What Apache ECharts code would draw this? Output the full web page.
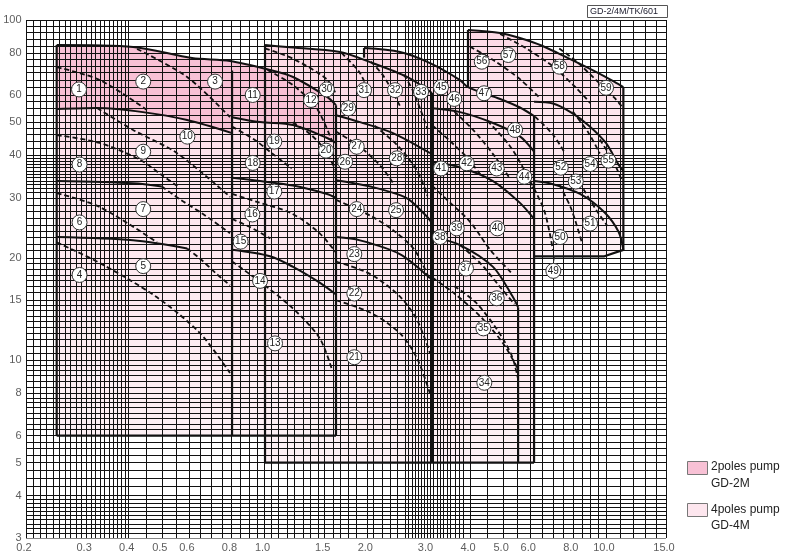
<!DOCTYPE html>
<html><head><meta charset="utf-8">
<script src="https://cdn.jsdelivr.net/npm/echarts@6/dist/echarts.min.js"></script>
<style>html,body{margin:0;padding:0;background:#fff}#c{width:800px;height:559px}</style>
</head><body><div id="c"></div>
<script>
const xTickValues = [0.2,0.3,0.4,0.5,0.6,0.8,1.0,1.5,2.0,3.0,4.0,5.0,6.0,8.0,10.0,15.0];
const yTickValues = [3,4,5,6,8,10,15,20,30,40,50,60,80,100];
const xGridValues = [0.2,0.21,0.22,0.23,0.24,0.25,0.26,0.27,0.28,0.29,0.3,0.31,0.32,0.33,0.34,0.35,0.36,0.37,0.38,0.39,0.4,
  0.45,0.5,0.55,0.6,0.65,0.7,0.75,0.8,0.85,0.9,0.95,1.0,
  1.044,1.095,1.164,1.22,1.296,1.359,1.434,1.5,1.587,1.664,1.756,1.853,2.0,
  2.078,2.209,2.331,2.444,2.58,2.633,2.704,2.76,2.816,2.874,2.932,3.0,3.054,3.116,3.2,3.267,3.334,3.424,3.495,3.614,3.712,3.814,4.0,
  4.5,5.0,5.5,6.0,6.5,7.0,7.5,8.0,8.5,9.0,9.5,10,11,12,13,14,15];
const yGridValues = [3,3.1,3.2,3.3,3.4,3.5,3.6,3.7,3.8,3.9,4,4.25,4.5,4.75,5,5.25,5.5,5.75,6,6.25,6.5,6.75,7,7.25,7.5,7.75,8,
  8.33,8.67,9,9.33,9.67,10,10.5,11,11.5,12,12.5,13,13.5,14,14.5,15,15.85,16.5,17.2,17.8,18.5,19.3,20,
  21,21.9,22.9,23.9,25,26.2,27.4,28.6,30,31.2,32,32.8,33.6,34.4,35.2,36,36.8,37.6,38.4,39.2,40,
  42,44,46,48,50,52.5,55,57.5,60,63.3,66.7,70,73.3,76.7,80,84,88,92,96,100];

// filled envelopes (flow m3/min, head m)
const lightAreas = [
  [[0.246,6],[0.246,84.4],[0.412,83.3],[0.613,77.3],[0.792,75.8],[1.037,71.3],[1.212,68.0],[1.524,59.4],[1.619,56.2],[1.619,6]],
  [[1.003,5],[1.003,84.4],[1.163,83.3],[1.664,80.5],[2.037,75.2],[2.614,68.0],[3.095,61.0],[3.095,5]],
  [[1.956,5],[1.956,82.7],[2.494,80.5],[3.054,74.7],[3.739,66.6],[3.944,63.5],[4.9,58.6],[5.6,55.3],[6.16,52.2],[6.16,5]],
  [[3.944,63.5],[3.944,93.5],[4.897,91.6],[5.6,88.5],[6.5,84.0],[7.7,77.5],[9.2,71.0],[10.6,65.8],[11.25,63.5],[11.25,21.1],[9.9,20.2],[6.16,20.2],[6.16,52.2],[4.9,58.6]]
];
const darkAreas = [
  [[0.246,84.4],[0.412,83.3],[0.613,77.3],[0.792,75.8],[1.037,71.3],[1.212,68.0],[1.524,59.4],[1.619,56.2],[1.619,43.5],[1.524,45.0],[1.212,49.1],[0.97,50.1],[0.803,51.8],[0.803,46.5],[0.593,50.8],[0.44,53.6],[0.323,55.1],[0.246,54.7]]
];
const edgeLines = [
  [[0.246,6],[0.246,84.4]],
  [[1.619,56.2],[1.619,6]],
  [[0.246,6],[1.619,6]],
  [[0.803,6],[0.803,71]],
  [[1.003,5],[1.003,84.4]],
  [[3.095,61],[3.095,5]],
  [[1.003,5],[6.16,5]],
  [[5.53,14.3],[5.53,5]],
  [[6.16,52.2],[6.16,5]],
  [[1.956,82.7],[1.956,77.5]],
  [[3.944,63.5],[3.944,93.5]],
  [[11.25,63.5],[11.25,21.1],[9.9,20.2],[6.16,20.2]]
];
const solidCurves = [
  [[0.246,84.4],[0.412,83.3],[0.613,77.3],[0.792,75.8],[1.037,71.3],[1.212,68.0],[1.524,59.4],[1.619,56.2]],
  [[0.246,54.7],[0.323,55.1],[0.44,53.6],[0.593,50.8],[0.803,46.5]],
  [[0.803,51.8],[0.97,50.1],[1.212,49.1],[1.524,45.0],[1.619,43.5]],
  [[0.246,33.6],[0.412,33.1],[0.5,32.4]],
  [[0.246,23.0],[0.412,22.5],[0.593,21.3]],
  [[0.803,34.4],[0.97,33.6],[1.212,32.6],[1.524,30.8],[1.619,30.0]],
  [[0.803,21.1],[1.037,20.2],[1.212,18.8],[1.45,16.9],[1.619,15.6]],
  [[1.003,84.4],[1.163,83.3],[1.664,80.5],[2.037,75.2],[2.614,68.0],[3.095,61.0]],
  [[1.619,52.5],[1.904,50.1],[2.378,46.5],[3.054,40.6]],
  [[1.619,33.8],[2.04,32.4],[2.6,30.0],[2.95,26.8],[3.095,25.3]],
  [[1.619,23.0],[1.904,22.5],[2.49,20.5],[3.054,17.4]],
  [[3.116,23.0],[3.739,21.8],[4.67,18.8],[5.346,15.3],[5.53,14.3]],
  [[3.054,55.1],[3.739,53.6],[4.67,49.8],[5.6,45.5],[6.16,41.0]],
  [[1.956,82.7],[2.494,80.5],[3.054,74.7],[3.739,66.6],[3.944,63.5],[4.9,58.6],[5.6,55.3],[6.16,52.2]],
  [[3.944,93.5],[4.897,91.6],[5.6,88.5],[6.5,84.0],[7.7,77.5],[9.2,71.0],[10.6,65.8],[11.25,63.5]],
  [[3.116,38.1],[3.739,36.9],[4.67,33.6],[5.6,29.0],[6.16,26.0]],
  [[6.16,57.5],[7.0,56.8],[7.9,53.5],[8.9,49.0],[10.0,43.5],[10.9,37.5],[11.25,36.0]],
  [[6.16,33.6],[7.0,32.9],[8.4,30.8],[9.9,27.2],[10.9,23.8],[11.25,21.1]]
];
const leaderLines = [
  [[7.02,19.4],[7.08,20.2]]
];
const dashedCurves = [
  [[0.246,72.7],[0.329,66.6],[0.452,54.4]],
  [[0.423,82.2],[0.593,68.0],[0.792,51.8]],
  [[0.246,45.9],[0.329,43.5],[0.432,38.8],[0.5,35.0],[0.56,32.3]],
  [[0.323,55.1],[0.412,47.5],[0.554,40.6],[0.792,30.2]],
  [[0.5,32.4],[0.565,29.7],[0.66,26.9],[0.792,23.6]],
  [[0.246,31.0],[0.329,28.2],[0.484,22.2]],
  [[0.593,21.3],[0.65,19.8],[0.72,18.0],[0.792,16.6]],
  [[0.246,22.2],[0.329,19.3],[0.484,15.3],[0.647,12.0],[0.792,9.16]],
  [[1.02,71.3],[1.21,64.4],[1.42,55.1],[1.58,43.8]],
  [[0.803,48.6],[0.93,44.6],[1.05,40.6],[1.2,36.6]],
  [[1.21,50.0],[1.36,46.2],[1.5,41.6],[1.619,36.0]],
  [[0.803,30.8],[0.95,29.2],[1.2,27.0],[1.45,23.6],[1.619,20.7]],
  [[0.803,26.0],[0.9,24.7],[1.04,22.8]],
  [[0.803,19.5],[0.97,17.0],[1.21,14.2],[1.45,11.6],[1.58,9.3]],
  [[1.003,82.5],[1.21,77.0],[1.52,67.0],[1.62,60.5]],
  [[1.68,80.0],[1.9,70.0],[2.04,60.0]],
  [[2.05,75.5],[2.24,68.0],[2.49,56.0]],
  [[2.56,69.0],[2.72,62.0],[3.0,48.0]],
  [[1.619,47.0],[1.9,42.4],[2.2,37.0],[2.4,32.7]],
  [[2.1,48.9],[2.45,42.8],[2.8,36.0],[3.0,30.4]],
  [[1.62,29.6],[2.04,26.6],[2.38,24.1],[2.75,21.1],[3.05,17.2]],
  [[1.62,19.5],[2.04,17.9],[2.49,15.4],[2.8,13.1],[3.05,10.5]],
  [[1.62,15.0],[2.04,13.8],[2.49,12.0],[2.8,10.1],[3.05,8.0]],
  [[3.1,49.0],[3.5,44.0],[3.9,39.6],[4.3,35.0]],
  [[3.6,53.8],[4.1,47.3],[4.7,40.0],[5.2,34.5]],
  [[4.5,50.5],[5.2,43.0],[5.7,37.0],[6.1,32.0]],
  [[3.1,32.5],[3.5,29.0],[4.0,25.5],[4.6,21.0],[5.3,18.0]],
  [[3.74,21.8],[4.3,19.2],[4.9,16.4],[5.4,14.6]],
  [[3.1,17.5],[3.6,15.7],[4.3,13.4],[5.0,11.2],[5.5,9.5]],
  [[3.6,16.5],[4.15,14.8],[4.8,12.3],[5.3,10.3],[5.53,8.8]],
  [[4.0,83.5],[4.7,76.0],[5.6,67.0],[6.4,59.0]],
  [[4.9,91.0],[5.9,82.0],[7.0,73.0],[8.2,63.0],[9.0,57.0]],
  [[7.3,82.5],[8.2,75.5],[9.3,67.0],[10.6,59.0],[11.25,55.0]],
  [[6.2,52.0],[7.0,46.0],[7.6,40.5]],
  [[8.0,53.8],[8.9,46.5],[9.6,40.5]],
  [[9.6,44.5],[10.5,38.5],[11.1,34.0]],
  [[6.0,33.6],[6.6,27.5],[7.0,21.0]],
  [[7.3,32.8],[7.9,28.0],[8.5,22.2]],
  [[8.6,31.8],[9.4,27.5],[10.1,24.8]]
];
const modelNumbers = [
  [0.286,62.5,'1'],[0.441,65.9,'2'],[0.716,65.9,'3'],[0.287,17.8,'4'],[0.441,18.9,'5'],[0.287,25.4,'6'],[0.441,27.8,'7'],
  [0.287,37.6,'8'],[0.441,41.0,'9'],[0.594,45.4,'10'],[0.923,60.2,'11'],[1.368,58.2,'12'],[1.073,11.2,'13'],[0.970,17.1,'14'],
  [0.851,22.3,'15'],[0.921,26.8,'16'],[1.068,31.3,'17'],[0.923,38.0,'18'],[1.068,43.9,'19'],[1.514,41.3,'20'],
  [1.832,10.2,'21'],[1.832,15.7,'22'],[1.832,20.5,'23'],[1.862,27.8,'24'],[2.428,27.6,'25'],[1.721,38.3,'26'],
  [1.862,42.4,'27'],[2.440,39.2,'28'],[1.759,55.0,'29'],[1.521,62.5,'30'],[1.956,62.2,'31'],[2.411,62.2,'32'],
  [2.874,61.5,'33'],[4.404,8.58,'34'],[4.375,12.4,'35'],[4.787,15.2,'36'],[3.892,18.6,'37'],[3.266,23.0,'38'],
  [3.656,24.4,'39'],[4.808,24.4,'40'],[3.288,36.6,'41'],[3.912,37.9,'42'],[4.787,36.6,'43'],[5.768,34.6,'44'],
  [3.288,63.4,'45'],[3.596,58.6,'46'],[4.395,60.9,'47'],[5.418,47.5,'48'],[7.015,18.3,'49'],[7.34,23.0,'50'],
  [8.987,25.2,'51'],[7.375,36.8,'52'],[8.16,33.5,'53'],[8.987,37.7,'54'],[10.17,38.6,'55'],[4.329,75.4,'56'],
  [5.178,78.9,'57'],[7.306,72.9,'58'],[10.01,63.2,'59']
];

const chart = echarts.init(document.getElementById('c'), null, {renderer:'canvas'});
const X0 = 0.2, X1 = 15, Y0 = 3, Y1 = 100;
const font = '"Liberation Sans", Arial, sans-serif';
const lightFill = new echarts.graphic.LinearGradient(0, 0, 0, 1, [{offset:0, color:'#fcd9e5'}, {offset:0.35, color:'#fde5ed'}, {offset:1, color:'#fdf0f4'}]);

function polySeries(polys, fill, z) {
  return {
    type:'custom', coordinateSystem:'cartesian2d', silent:true, clip:true, z:z,
    data: polys.map(p => p[0]),
    renderItem: (params, api) => ({
      type:'polygon',
      shape:{points: polys[params.dataIndex].map(pt => api.coord(pt))},
      style:{fill: fill}
    })
  };
}
function lineSeries(pts, style, smooth, z) {
  return {type:'line', data: pts, showSymbol:false, symbol:'none', smooth: smooth, silent:true, z:z,
    lineStyle: style, animation:false};
}

const series = [];
series.push(polySeries(lightAreas, lightFill, 1));
series.push(polySeries(darkAreas, '#f8c1d5', 2));
series.push({
  type:'lines', coordinateSystem:'cartesian2d', silent:true, z:3, polyline:false,
  lineStyle:{color:'#111', width:1, opacity:1},
  data: xGridValues.map(v => ({coords:[[v,Y0],[v,Y1]]})).concat(yGridValues.map(v => ({coords:[[X0,v],[X1,v]]})))
});
edgeLines.forEach(p => series.push(lineSeries(p, {color:'#111', width:2.2}, false, 5)));
solidCurves.forEach(p => series.push(lineSeries(p, {color:'#111', width:2}, 0.3, 5)));
leaderLines.forEach(p => series.push(lineSeries(p, {color:'#333', width:1}, false, 5)));
dashedCurves.forEach(p => series.push(lineSeries(p, {color:'#111', width:1.8, type:[5,3]}, 0.3, 5)));
series.push({
  type:'scatter', data: modelNumbers, symbol:'circle', symbolSize:15, silent:true, z:8,
  itemStyle:{color:'#fff', borderColor:'#333', borderWidth:1, opacity:1},
  label:{show:true, position:'inside', formatter: p => p.data[2], fontSize:10, color:'#222', fontFamily:font}
});
series.push({
  type:'scatter', data: xTickValues.map(v => [v, Y0]), symbolSize:1, itemStyle:{color:'rgba(0,0,0,0)'}, silent:true, clip:false, z:9,
  label:{show:true, position:'bottom', distance:4, offset:[-2,0], formatter: p => p.data[0].toFixed(1), fontSize:11, color:'#333', fontFamily:font}
});
series.push({
  type:'scatter', data: yTickValues.map(v => [X0, v]), symbolSize:1, itemStyle:{color:'rgba(0,0,0,0)'}, silent:true, clip:false, z:9,
  label:{show:true, position:'left', distance:4, formatter: p => String(p.data[1]), fontSize:11, color:'#333', fontFamily:font}
});

chart.setOption({
  animation:false,
  backgroundColor:'#fff',
  grid:{left:26, right:134, top:20, bottom:21},
  xAxis:{type:'log', logBase:10, min:X0, max:X1, axisLine:{show:false}, axisTick:{show:false}, axisLabel:{show:false}, splitLine:{show:false}},
  yAxis:{type:'log', logBase:10, min:Y0, max:Y1, axisLine:{show:false}, axisTick:{show:false}, axisLabel:{show:false}, splitLine:{show:false}},
  graphic:[
    {type:'rect', left:587, top:5, shape:{width:80, height:12}, style:{fill:'#fff', stroke:'#555', lineWidth:1}},
    {type:'text', left:590, top:7, style:{text:'GD-2/4M/TK/601', font:'9px '+font, fill:'#223'}},
    {type:'rect', left:687, top:461, shape:{width:20, height:13}, style:{fill:'#f8c1d5', stroke:'#777', lineWidth:1}},
    {type:'text', left:711, top:461, style:{text:'2poles pump', font:'12px '+font, fill:'#222'}},
    {type:'text', left:711, top:478, style:{text:'GD-2M', font:'12px '+font, fill:'#222'}},
    {type:'rect', left:687, top:503, shape:{width:20, height:13}, style:{fill:'#fde6ee', stroke:'#777', lineWidth:1}},
    {type:'text', left:711, top:504, style:{text:'4poles pump', font:'12px '+font, fill:'#222'}},
    {type:'text', left:711, top:520, style:{text:'GD-4M', font:'12px '+font, fill:'#222'}}
  ],
  series: series
});
</script></body></html>
